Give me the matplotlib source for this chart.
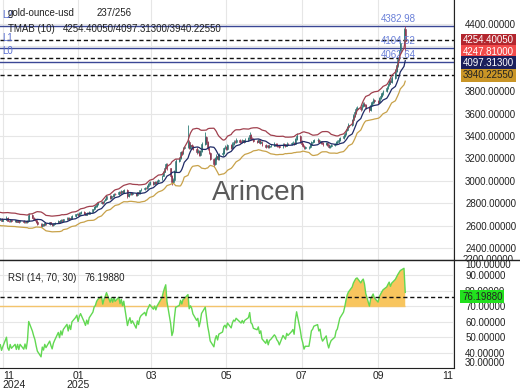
import numpy as np
import pandas as pd
import matplotlib
matplotlib.use('Agg')
import matplotlib.pyplot as plt
from matplotlib.lines import Line2D
from matplotlib.transforms import Bbox, blended_transform_factory

plt.rcParams['font.family'] = ['Liberation Sans', 'DejaVu Sans']

symbol = 'gold-ounce-usd'
bar_counter = '237/256'

# daily closes, one row per week (first rows are October 2024, left of the view)
closes = [
    2690, 2675, 2688, 2670,
    2680, 2665, 2678, 2660, 2672,
    2668, 2680, 2662, 2675, 2658,
    2670, 2655, 2668, 2650, 2662,
    2648, 2658, 2660, 2645, 2652,
    2672, 2645, 2638, 2650, 2640,
    2648, 2635, 2645, 2632, 2642,
    2630, 2640, 2628, 2645, 2695,
    2672, 2660, 2650, 2632, 2615,
    2595, 2618, 2608, 2622, 2612,
    2628, 2615, 2605, 2618, 2625,
    2645, 2632, 2650, 2640, 2655,
    2670, 2655, 2672, 2662, 2685,
    2700, 2708, 2695, 2712, 2722,
    2705, 2698, 2714, 2706, 2725,
    2745, 2765, 2772, 2790, 2800,
    2815, 2802, 2825, 2840, 2862,
    2845, 2868, 2860, 2885, 2878,
    2900, 2888, 2910, 2898, 2920,
    2862, 2882, 2895, 2880, 2890,
    2870, 2898, 2888, 2915, 2925,
    2940, 2932, 2958, 2970, 2985,
    2975, 2990, 2982, 3000, 3010,
    3045, 3080, 3115, 3150, 3110,
    3040, 2990, 3010, 3090, 3180,
    3200, 3255, 3240, 3290, 3300,
    3350, 3290, 3320, 3310, 3285,
    3255, 3270, 3230, 3265, 3330,
    3390, 3345, 3290, 3250, 3195,
    3150, 3200, 3225, 3195, 3235,
    3250, 3290, 3300, 3285, 3320,
    3295, 3330, 3350, 3345, 3365,
    3350, 3345, 3360, 3350, 3365,
    3380, 3410, 3375, 3370, 3355,
    3350, 3362, 3340, 3350, 3322,
    3305, 3318, 3298, 3312, 3315,
    3330, 3325, 3315, 3310, 3300,
    3325, 3320, 3315, 3330, 3325,
    3335, 3340, 3330, 3370, 3400,
    3355, 3330, 3315, 3292, 3300,
    3300, 3320, 3345, 3350, 3360,
    3365, 3350, 3355, 3335, 3325,
    3338, 3318, 3305, 3315, 3322,
    3330, 3345, 3350, 3365, 3380,
    3400, 3420, 3450, 3480, 3500,
    3540, 3580, 3610, 3640, 3650,
    3640, 3670, 3690, 3680, 3660,
    3630, 3680, 3700, 3720, 3710,
    3700, 3740, 3760, 3780, 3800,
    3830, 3860, 3890, 3880, 3920,
    3980, 4030, 4090, 4150, 4230,
    4356, 4247.81,
]
highs = [
    2700, 2695, 2694, 2692,
    2688, 2684, 2685, 2682, 2680,
    2678, 2688, 2684, 2680, 2678,
    2676, 2674, 2672, 2670, 2668,
    2666, 2664, 2668, 2664, 2658,
    2685, 2676, 2650, 2655, 2654,
    2654, 2652, 2650, 2648, 2646,
    2646, 2645, 2644, 2650, 2715,
    2700, 2680, 2666, 2656, 2638,
    2620, 2624, 2624, 2628, 2626,
    2634, 2632, 2620, 2624, 2632,
    2652, 2648, 2656, 2655, 2662,
    2676, 2674, 2678, 2676, 2692,
    2708, 2716, 2712, 2718, 2730,
    2728, 2712, 2720, 2718, 2732,
    2752, 2772, 2782, 2798, 2810,
    2822, 2820, 2832, 2848, 2870,
    2870, 2875, 2872, 2892, 2890,
    2908, 2905, 2918, 2915, 2930,
    2926, 2888, 2902, 2898, 2896,
    2895, 2904, 2902, 2920, 2932,
    2948, 2945, 2964, 2978, 2994,
    2995, 2998, 2996, 3008, 3020,
    3052, 3090, 3125, 3162, 3158,
    3115, 3050, 3022, 3100, 3192,
    3215, 3265, 3262, 3298, 3315,
    3500, 3362, 3332, 3330, 3318,
    3298, 3280, 3276, 3272, 3342,
    3435, 3400, 3352, 3298, 3258,
    3202, 3210, 3236, 3232, 3245,
    3265, 3302, 3318, 3312, 3332,
    3330, 3342, 3362, 3365, 3378,
    3375, 3362, 3372, 3368, 3378,
    3392, 3435, 3418, 3388, 3380,
    3368, 3372, 3366, 3358, 3355,
    3328, 3324, 3320, 3318, 3326,
    3342, 3340, 3334, 3324, 3318,
    3335, 3336, 3330, 3342, 3340,
    3346, 3352, 3350, 3380, 3430,
    3408, 3362, 3336, 3320, 3308,
    3312, 3330, 3356, 3362, 3374,
    3380, 3372, 3362, 3352, 3344,
    3348, 3342, 3326, 3322, 3330,
    3340, 3355, 3362, 3375, 3392,
    3412, 3432, 3462, 3492, 3515,
    3552, 3595, 3625, 3655, 3668,
    3665, 3685, 3705, 3702, 3690,
    3668, 3692, 3715, 3735, 3732,
    3722, 3752, 3775, 3795, 3815,
    3845, 3875, 3905, 3910, 3935,
    3995, 4045, 4105, 4168, 4245,
    4368, 4382.98,
]
lows = [
    2680, 2670, 2672, 2664,
    2665, 2660, 2662, 2655, 2656,
    2660, 2662, 2656, 2658, 2652,
    2655, 2648, 2650, 2645, 2646,
    2642, 2643, 2650, 2640, 2640,
    2648, 2640, 2630, 2632, 2634,
    2636, 2630, 2630, 2626, 2628,
    2624, 2626, 2622, 2624, 2640,
    2665, 2652, 2642, 2625, 2606,
    2585, 2590, 2600, 2604, 2606,
    2608, 2610, 2598, 2600, 2612,
    2620, 2626, 2628, 2634, 2636,
    2650, 2650, 2652, 2656, 2658,
    2680, 2694, 2690, 2692, 2706,
    2700, 2692, 2694, 2700, 2702,
    2720, 2738, 2758, 2766, 2782,
    2795, 2796, 2798, 2818, 2835,
    2838, 2842, 2855, 2858, 2870,
    2875, 2882, 2885, 2892, 2895,
    2848, 2855, 2876, 2874, 2876,
    2862, 2866, 2882, 2885, 2910,
    2920, 2926, 2928, 2952, 2964,
    2965, 2970, 2975, 2978, 2995,
    3005, 3040, 3075, 3110, 3100,
    3030, 2965, 2980, 3005, 3080,
    3172, 3195, 3230, 3235, 3282,
    3295, 3280, 3285, 3300, 3275,
    3240, 3245, 3220, 3225, 3255,
    3322, 3330, 3278, 3238, 3182,
    3120, 3140, 3188, 3185, 3190,
    3220, 3240, 3280, 3272, 3278,
    3282, 3288, 3322, 3335, 3338,
    3340, 3335, 3338, 3340, 3342,
    3358, 3372, 3366, 3360, 3345,
    3340, 3345, 3332, 3335, 3312,
    3292, 3300, 3290, 3292, 3302,
    3308, 3316, 3306, 3300, 3290,
    3295, 3310, 3305, 3308, 3316,
    3318, 3328, 3320, 3325, 3362,
    3340, 3322, 3305, 3280, 3285,
    3282, 3292, 3312, 3336, 3342,
    3350, 3345, 3335, 3325, 3315,
    3318, 3310, 3290, 3292, 3302,
    3312, 3322, 3338, 3342, 3358,
    3372, 3392, 3412, 3442, 3470,
    3490, 3530, 3570, 3600, 3630,
    3625, 3630, 3660, 3665, 3645,
    3612, 3622, 3672, 3690, 3695,
    3688, 3692, 3730, 3750, 3770,
    3790, 3820, 3850, 3862, 3870,
    3910, 3968, 4015, 4075, 4130,
    4215, 4160,
]

level_names = ['L2', 'L1', 'L0']
level_values = [4382.98, 4184.52, 4062.64]
level_texts = ['4382.98', '4104.52', '4062.64']
tmab_values = [4254.40050, 4097.31300, 3940.22550]
last_price = 4247.81000
rsi_last = 76.19880
price_ticks = [2400, 2600, 2800, 3000, 3200, 3400, 3600, 3800, 4400]
price_grid = [4000, 4200]
rsi_ticks = [30, 40, 50, 60, 70, 80, 90, 100]
month_ticks = ['2024-11-01', '2025-01-01', '2025-03-01', '2025-05-01',
               '2025-07-01', '2025-09-01', '2025-11-01']
month_labels = ['11\n2024', '01\n2025', '03', '05', '07', '09', '11']

dates = pd.bdate_range('2024-10-01', periods=len(closes))
c = pd.Series(closes, index=dates, dtype=float)
o = c.shift(1).fillna(c.iloc[0])
h = pd.concat([pd.Series(highs, index=dates, dtype=float), o, c], axis=1).max(axis=1)
l = pd.concat([pd.Series(lows, index=dates, dtype=float), o, c], axis=1).min(axis=1)

# TMA bands (10)
mid = c.rolling(5, min_periods=1).mean().rolling(6, min_periods=1).mean()
tr = pd.concat([h - l, (h - c.shift(1)).abs(), (l - c.shift(1)).abs()], axis=1).max(axis=1)
atr = tr.rolling(20, min_periods=1).mean()
upper = mid + 2.5 * atr
lower = mid - 2.5 * atr

# RSI (14), Wilder smoothing seeded with a simple mean
n = 14
d = np.diff(c.values)
up_mv = np.clip(d, 0, None)
dn_mv = np.clip(-d, 0, None)
avg_g = np.full(len(c), np.nan)
avg_l = np.full(len(c), np.nan)
avg_g[n] = up_mv[:n].mean()
avg_l[n] = dn_mv[:n].mean()
for i in range(n + 1, len(c)):
    avg_g[i] = (avg_g[i - 1] * (n - 1) + up_mv[i - 1]) / n
    avg_l[i] = (avg_l[i - 1] * (n - 1) + dn_mv[i - 1]) / n
rsi = pd.Series(100 - 100 / (1 + avg_g / avg_l), index=dates)

W, H = 520, 390
fig = plt.figure(figsize=(W / 100, H / 100), dpi=100)
ax = fig.add_axes([0, 1 - 260 / H, 454 / W, 260 / H])
ax_r = fig.add_axes([0, 1 - 368 / H, 454 / W, 108 / H], sharex=ax)

for a in (ax, ax_r):
    a.spines['top'].set_visible(False)
    a.spines['left'].set_visible(False)
    a.spines['right'].set_color('#222222')
    a.spines['bottom'].set_color('#222222')
    a.grid(True, color='#e6e6e6', lw=0.8)
    a.set_axisbelow(True)
    a.yaxis.tick_right()
    a.tick_params(axis='y', length=0, pad=8, labelsize=7, labelcolor='#222222')

for g in price_grid:
    ax.axhline(g, color='#e6e6e6', lw=0.8, zorder=0.5)

# candles
up = c >= o
body_col = np.where(up, '#2f7f78', '#a23a55')
ax.vlines(dates, l, h, colors=body_col, lw=0.6, zorder=3)
ax.bar(dates, (c - o).abs().clip(lower=2), bottom=np.minimum(o, c), width=0.7,
       color=np.where(up, '#34495e', '#3b2a3a'), edgecolor=body_col, lw=0.4, zorder=3)

ax.plot(dates, upper, color='#a0404e', lw=0.9, zorder=4)
ax.plot(dates, mid, color='#1f2a66', lw=0.9, zorder=4)
ax.plot(dates, lower, color='#c8a24a', lw=0.9, zorder=4)

for v in tmab_values:
    ax.axhline(v, color='#111111', lw=1, ls=(0, (3, 2)), zorder=2)

bt = blended_transform_factory(ax.transAxes, ax.transData)
for name, v, txt in zip(level_names, level_values, level_texts):
    ax.axhline(v, color='#3a4795', lw=1, zorder=2)
    ax.annotate(name, (0.006, v), xycoords=bt, xytext=(0, 4), textcoords='offset points',
                va='bottom', ha='left', fontsize=7, color='#5a6fd0')
    ax.annotate(txt, (0.877, v), xycoords=bt, xytext=(0, 1.5), textcoords='offset points',
                va='bottom', ha='center', fontsize=7, color='#6a80d8')

ax.set_ylim(2293, 4614)
ax.set_yticks(price_ticks)
ax.set_yticklabels([f'{t:.5f}' for t in price_ticks])
ax.tick_params(axis='x', length=0, labelbottom=False)

cut = ax.text(1 + 9 / 454, 0, '2200.00000', transform=ax.transAxes, va='center',
              ha='left', fontsize=7, color='#222222', clip_on=True)
cut.set_clip_box(Bbox([[0, H - 260], [W, H]]))

# right side value boxes
tag_specs = [
    (tmab_values[0], 4254.40050, '#b3262e', 'white'),
    (last_price, 4150, '#f24a4a', 'white'),
    (tmab_values[1], 4050, '#1b1f5c', 'white'),
    (tmab_values[2], 3940.22550, '#c99526', '#222222'),
]
for val, ypos, bg, fg in tag_specs:
    ax.text(1 + 9 / 454, ypos, f'{val:.5f}', transform=bt, va='center', ha='left',
            fontsize=7, color=fg, zorder=6, clip_on=False,
            bbox=dict(boxstyle='square,pad=0.18', fc=bg, ec='none'))

ax.text(0.0176, 0.95, symbol, transform=ax.transAxes, fontsize=7, color='#222222', va='center')
ax.text(0.2137, 0.95, bar_counter, transform=ax.transAxes, fontsize=7, color='#222222', va='center')
ax.text(0.0176, 0.888, 'TMAB (10)', transform=ax.transAxes, fontsize=7, color='#222222', va='center')
ax.text(0.139, 0.888, '/'.join(f'{v:.5f}' for v in tmab_values), transform=ax.transAxes,
        fontsize=7, color='#222222', va='center')
ax.text(0.570, 0.258, 'Arincen', transform=ax.transAxes, fontsize=20, color='#5a5a5a',
        ha='center', va='center', zorder=1)

# RSI pane
ax_r.hlines(70, dates[0], dates[-1], color='#f3c46c', lw=1, zorder=2)
ax_r.fill_between(dates, rsi, 70, where=rsi > 70, interpolate=True, color='#f8c55e', lw=0, zorder=2)
ax_r.plot(dates, rsi, color='#62d852', lw=1, zorder=3)
ax_r.axhline(rsi_last, color='#111111', lw=1, ls=(0, (3, 2)), zorder=4)
ax_r.set_ylim(30, 100)
ax_r.set_yticks(rsi_ticks)
ax_r.set_yticklabels([f'{t:.5f}' for t in rsi_ticks])
labs = ax_r.get_yticklabels()
labs[0].set_va('bottom')
labs[-1].set_va('top')
brt = blended_transform_factory(ax_r.transAxes, ax_r.transData)
ax_r.text(1 + 8 / 454, rsi_last, f'{rsi_last:.5f}', transform=brt, va='center', ha='left',
          fontsize=7, color='#222222', zorder=6, clip_on=False,
          bbox=dict(boxstyle='square,pad=0.18', fc='#22e01e', ec='none'))
ax_r.text(0.0176, 0.83, 'RSI (14, 70, 30)', transform=ax_r.transAxes, fontsize=7, color='#222222', va='center')
ax_r.text(0.187, 0.83, f'{rsi_last:.5f}', transform=ax_r.transAxes, fontsize=7, color='#222222', va='center')

ax_r.set_xlim(pd.Timestamp('2024-10-29 18:00'), pd.Timestamp('2025-11-01 12:00'))
ax_r.set_xticks(pd.to_datetime(month_ticks))
ax_r.set_xticklabels(month_labels, fontsize=7.5, linespacing=0.95, color='#222222')
ax_r.tick_params(axis='x', length=0, pad=2)
xl = ax_r.get_xticklabels()
xl[0].set_ha('left')
xl[-1].set_ha('right')

fig.add_artist(Line2D([0, 1], [1 - 260 / H, 1 - 260 / H], color='#222222', lw=1))

fig.savefig('out.png', dpi=100)
